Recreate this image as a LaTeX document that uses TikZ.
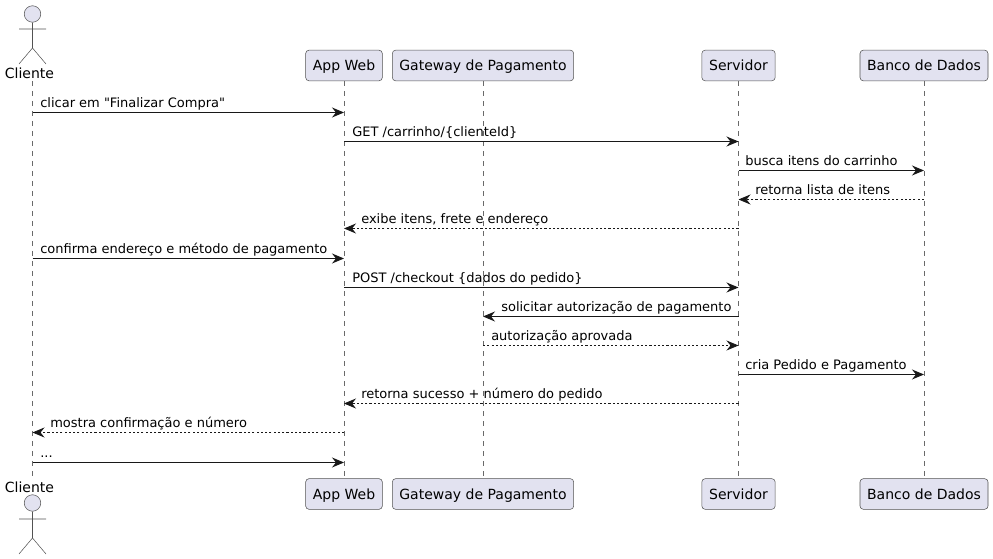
\documentclass[tikz,border=0pt]{standalone}
\usepackage{fontspec}
\newfontfamily\seqfont{DejaVu Sans}
\usepackage{xcolor}
\usetikzlibrary{arrows.meta}
\definecolor{seqfill}{HTML}{E2E2F0}
\definecolor{seqline}{HTML}{181818}
\tikzset{
    partbox/.style={rectangle, draw=seqline!75, line width=0.4pt, fill=seqfill, rounded corners=2.5pt, text centered, font=\seqfont\fontsize{10.5pt}{12pt}\selectfont, minimum height=23pt, inner sep=0pt, text height=7.6pt, text depth=0pt},
    actorlabel/.style={inner sep=0pt, font=\seqfont\fontsize{10.5pt}{12pt}\selectfont, text height=7.6pt, text depth=0pt},
    actorbody/.style={draw=seqline!75, line width=0.4pt},
    lifeline/.style={draw=seqline!65, line width=0.4pt, dash pattern=on 3.75pt off 3.75pt},
    msg/.style={draw=seqline, line width=0.75pt, -{Stealth[length=9pt,width=7.5pt,inset=3pt]}},
    reply/.style={msg, line width=0.6pt, dash pattern=on 1.6pt off 1.6pt},
    msglabel/.style={anchor=base west, inner sep=0pt, text=black}
}
\begin{document}
\begin{tikzpicture}[x=0.75pt, y=-0.75pt, font=\seqfont\fontsize{9.75pt}{12pt}\selectfont]
    \useasboundingbox (0,0) rectangle (993,559);

    % lifeline ends
    \coordinate (clienteT) at (32.5,81);
    \coordinate (clienteB) at (32.5,478);
    \node (cliente) [actorlabel] at (29.5,73) {Cliente};
    \node (web) [partbox, minimum width=57.5pt] at (344,65.5) {App Web};
    \node (gateway) [partbox, minimum width=136pt] at (483,65.5) {Gateway de Pagamento};
    \node (servidor) [partbox, minimum width=55pt] at (738.5,65.5) {Servidor};
    \node (banco) [partbox, minimum width=96pt] at (924,65.5) {Banco de Dados};

    \node (clienteL) [actorlabel] at (29.5,487) {Cliente};
    \node (webB) [partbox, minimum width=57.5pt] at (344,494) {App Web};
    \node (gatewayB) [partbox, minimum width=136pt] at (483,494) {Gateway de Pagamento};
    \node (servidorB) [partbox, minimum width=55pt] at (738.5,494) {Servidor};
    \node (bancoB) [partbox, minimum width=96pt] at (924,494) {Banco de Dados};

    \draw [lifeline] (clienteT) -- (clienteB);
    \draw [lifeline] (web) -- (webB);
    \draw [lifeline] (gateway) -- (gatewayB);
    \draw [lifeline] (servidor) -- (servidorB);
    \draw [lifeline] (banco) -- (bancoB);

    % actors
    \node (headT) [circle, actorbody, fill=seqfill, minimum size=12.4pt, inner sep=0pt] at (32.5,14) {};
    \draw [actorbody] (headT) -- (32.5,48) (19,29) -- (46,29) (19,64) -- (32.5,48) -- (46,64);
    \node (headB) [circle, actorbody, fill=seqfill, minimum size=12.4pt, inner sep=0pt] at (32.5,503) {};
    \draw [actorbody] (headB) -- (32.5,538) (19,519) -- (46,519) (19,554) -- (32.5,538) -- (46,554);

    % messages
    \draw [msg] (clienteT |- 0,112.5) -- (web |- 0,112.5);
    \draw [msg] (web |- 0,141.5) -- (servidor |- 0,141.5);
    \draw [msg] (servidor |- 0,170.5) -- (banco |- 0,170.5);
    \draw [reply] (banco |- 0,199.5) -- (servidor |- 0,199.5);
    \draw [reply] (servidor |- 0,228.5) -- (web |- 0,228.5);
    \draw [msg] (clienteT |- 0,258.5) -- (web |- 0,258.5);
    \draw [msg] (web |- 0,287.5) -- (servidor |- 0,287.5);
    \draw [msg] (servidor |- 0,316.5) -- (gateway |- 0,316.5);
    \draw [reply] (gateway |- 0,345.5) -- (servidor |- 0,345.5);
    \draw [msg] (servidor |- 0,374.5) -- (banco |- 0,374.5);
    \draw [reply] (servidor |- 0,403.5) -- (web |- 0,403.5);
    \draw [reply] (web |- 0,432.5) -- (clienteT |- 0,432.5);
    \draw [msg] (clienteT |- 0,462.5) -- (web |- 0,462.5);

    % labels
    \node (txt1) [msglabel] at (40,108) {clicar em "Finalizar Compra"};
    \node (txt2) [msglabel] at (352,137) {GET /carrinho/\{clienteId\}};
    \node (txt3) [msglabel] at (745,166) {busca itens do carrinho};
    \node (txt4) [msglabel] at (755,195) {retorna lista de itens};
    \node (txt5) [msglabel] at (361,224) {exibe itens, frete e endereço};
    \node (txt6) [msglabel] at (40,254) {confirma endereço e método de pagamento};
    \node (txt7) [msglabel] at (352,283) {POST /checkout \{dados do pedido\}};
    \node (txt8) [msglabel] at (501,312) {solicitar autorização de pagamento};
    \node (txt9) [msglabel] at (491,341) {autorização aprovada};
    \node (txt10) [msglabel] at (745,370) {cria Pedido e Pagamento};
    \node (txt11) [msglabel] at (361,399) {retorna sucesso + número do pedido};
    \node (txt12) [msglabel] at (50,428) {mostra confirmação e número};
    \node (txt13) [msglabel] at (40,458) {...};
\end{tikzpicture}
\end{document}
